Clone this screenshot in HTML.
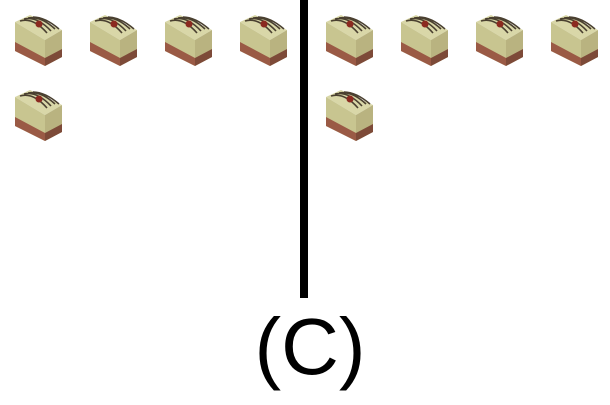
<!DOCTYPE html>
<html><head><meta charset="utf-8"><style>
body{margin:0;background:#fff;width:610px;height:400px;overflow:hidden}
</style></head><body>
<svg id="c" width="610" height="400">
<defs>
<g id="cake">
<polygon points="0,7 15,0 47,15 30,25" fill="#d9d7a8"/>
<path d="M5,6 Q18,2 32,18 M9,4 Q22,1 36,16 M13,3 Q26,1 40,14 M18,2 Q30,2 44,14" stroke="#4a4030" stroke-width="1.6" fill="none"/>
<circle cx="24" cy="9" r="3.5" fill="#8b2a20"/>
<polygon points="0,7 30,25 30,51 0,36" fill="#c8c590"/>
<polygon points="0,27 30,43 30,51 0,36" fill="#9a5a45"/>
<polygon points="30,25 47,15 47,42 30,51" fill="#b9b380"/>
<polygon points="30,43 47,34 47,42 30,51" fill="#7d4a38"/>
</g>
</defs>
<rect x="300" y="0" width="8" height="298" fill="#000"/>
<text x="310" y="374" font-family="Liberation Sans, sans-serif" font-size="80" text-anchor="middle" fill="#000">(C)</text>
</svg>
<script>
const groups = ["left","right"];
const counts = [5, 5];
const svg = document.getElementById('c');
const NS = 'http://www.w3.org/2000/svg';
const groupX = i => 15 + i * 311;
const colX = k => k * 75;
const rowY = r => 15 + r * 75;
groups.forEach((g, i) => {
  for (let k = 0; k < counts[i]; k++) {
    const u = document.createElementNS(NS, 'use');
    u.setAttribute('href', '#cake');
    u.setAttribute('x', groupX(i) + colX(k % 4));
    u.setAttribute('y', rowY(Math.floor(k / 4)));
    
    
    svg.appendChild(u);
  }
});
</script>
</body></html>
